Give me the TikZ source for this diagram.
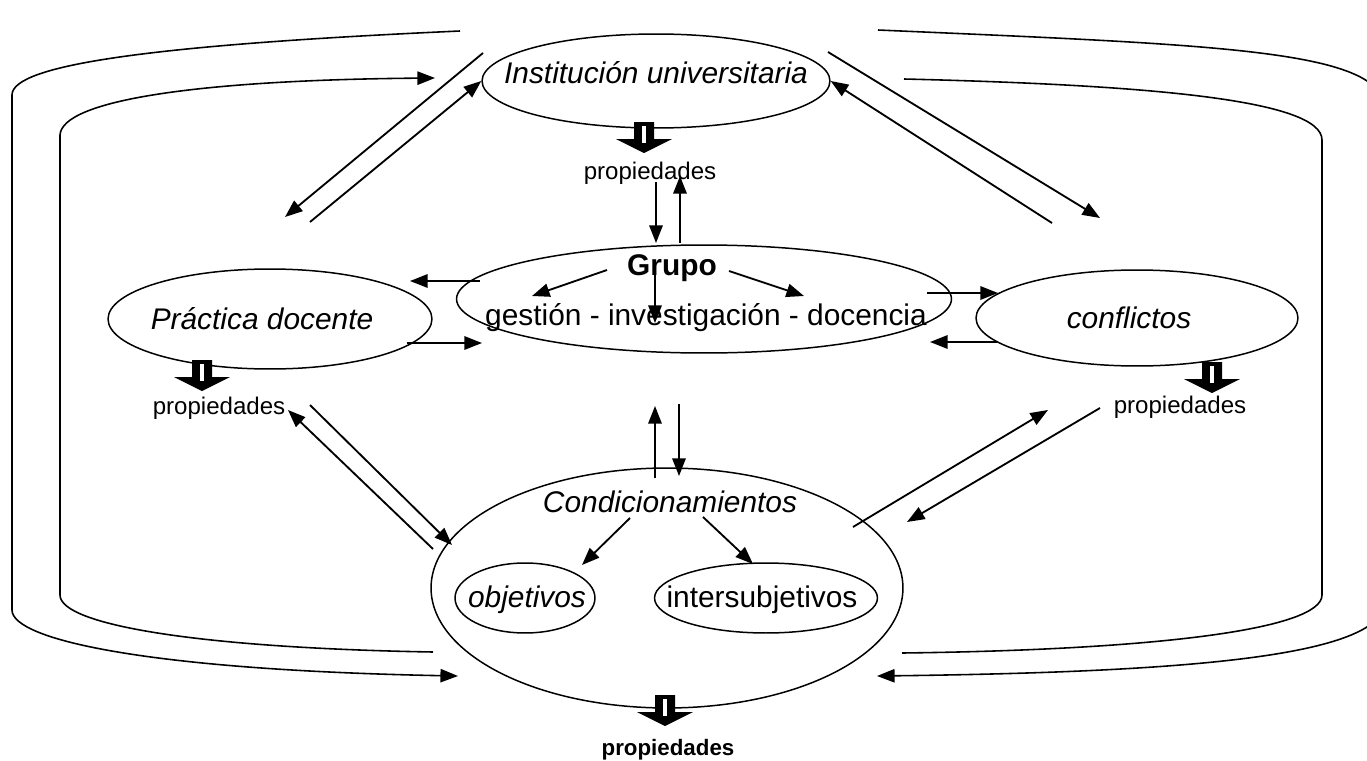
\documentclass[tikz,border=0pt]{standalone}
\usepackage{fontspec}
\setmainfont{Liberation Sans}
\usetikzlibrary{shapes.geometric,arrows.meta}
\begin{document}
\begin{tikzpicture}[x=0.02cm,y=-0.02cm,
  oval/.style={draw, ellipse, line width=0.85pt, inner sep=0pt},
  lbl/.style={font=\fontsize{17}{20}\selectfont, inner sep=0pt},
  ilbl/.style={font=\fontsize{17}{20}\selectfont\itshape, inner sep=0pt},
  blbl/.style={font=\fontsize{17}{20}\selectfont\bfseries, inner sep=0pt},
  prop/.style={font=\fontsize{13.7}{16}\selectfont, inner sep=0pt},
  tip/.style={-{Triangle[length=10pt,width=7.6pt]}},
  link/.style={line width=1.05pt, tip},
  loopline/.style={line width=0.9pt},
  blockarrow/.pic={
    \fill (-10,0) -- (10,0) -- (10,17) -- (28,17) -- (0,31) -- (-28,17) -- (-10,17) -- cycle;
    \fill[white] (-2,4) rectangle (2,21);
  }
]
\useasboundingbox (0,0) rectangle (1367,761);
\clip (0,0) rectangle (1367,761);

% ---- ellipses ----
\node[oval, minimum width=6.96cm, minimum height=1.88cm] (inst) at (656,81) {};
\node[oval, minimum width=9.9cm,  minimum height=2.16cm] (grupo) at (704,299) {};
\node[oval, minimum width=6.48cm, minimum height=2.0cm]  (prac) at (270,319) {};
\node[oval, minimum width=6.44cm, minimum height=1.92cm] (conf) at (1137,318) {};
\node[oval, minimum width=9.44cm, minimum height=4.8cm]  (cond) at (667,588) {};
\node[oval, minimum width=2.8cm,  minimum height=1.4cm]  (obj) at (525,598) {};
\node[oval, minimum width=4.46cm, minimum height=1.4cm]  (inter) at (766,598) {};

% ---- texts ----
\node[ilbl] (instt) at (656,73) {Institución universitaria};
\node[blbl] (grupot) at (672,268) {Grupo};
\node[lbl]  (gidt) at (706,318) {gestión - investigación - docencia};
\node[ilbl] (pract) at (262,319) {Práctica docente};
\node[ilbl] (conft) at (1129,318) {conflictos};
\node[ilbl] (condt) at (670,502) {Condicionamientos};
\node[ilbl] (objt) at (527,600) {objetivos};
\node[lbl]  (intert) at (762,600) {intersubjetivos};

% ---- property markers ----
\pic at (644,122) {blockarrow};
\pic at (202,360) {blockarrow};
\pic at (1212,362) {blockarrow};
\pic at (665,695) {blockarrow};
\node[prop] (prop1) at (650,173) {propiedades};
\node[prop] (prop2) at (219,408) {propiedades};
\node[prop] (prop3) at (1180,407) {propiedades};
\node[font=\fontsize{12.7}{15}\selectfont\bfseries, inner sep=0pt] (prop4) at (668,750) {propiedades};

% ---- connector end points ----
\coordinate (a1s) at (483,53);   \coordinate (a1e) at (285,217);
\coordinate (a2s) at (310,222);
\coordinate (a3s) at (828,52);   \coordinate (a3e) at (1100,218);
\coordinate (a4s) at (1052,223);
\coordinate (a5s) at (656,182);  \coordinate (a5e) at (656,243);
\coordinate (a6s) at (680,243);  \coordinate (a6e) at (680,176);
\coordinate (a7s) at (480,281);  \coordinate (a7e) at (410,281);
\coordinate (a8s) at (407,343);  \coordinate (a8e) at (482,343);
\coordinate (a9s) at (927,293);  \coordinate (a9e) at (998,293);
\coordinate (a10s) at (997,342); \coordinate (a10e) at (930,342);
\coordinate (a11s) at (607,270); \coordinate (a11e) at (532,296);
\coordinate (a12s) at (729,271); \coordinate (a12e) at (804,296);
\coordinate (a13s) at (655,272); \coordinate (a13e) at (655,323);
\coordinate (a14s) at (655,478); \coordinate (a14e) at (655,406);
\coordinate (a15s) at (679,404); \coordinate (a15e) at (679,476);
\coordinate (a16s) at (630,518); \coordinate (a16e) at (582,565);
\coordinate (a17s) at (703,517); \coordinate (a17e) at (753,564);
\coordinate (a18s) at (433,549); \coordinate (a18e) at (288,410);
\coordinate (a19s) at (310,405); \coordinate (a19e) at (452,545);
\coordinate (a20s) at (853,527); \coordinate (a20e) at (1048,410);
\coordinate (a21s) at (1100,408); \coordinate (a21e) at (907,522);

% ---- connectors ----
\draw[link] (a1s) -- (a1e);
\draw[link] (a2s) -- (inst.west);
\draw[link] (a3s) -- (a3e);
\draw[link] (a4s) -- (inst.east);
\draw[link] (a5s) -- (a5e);
\draw[link] (a6s) -- (a6e);
\draw[link] (a7s) -- (a7e);
\draw[link] (a8s) -- (a8e);
\draw[link] (a9s) -- (a9e);
\draw[link] (a10s) -- (a10e);
\draw[link] (a11s) -- (a11e);
\draw[link] (a12s) -- (a12e);
\draw[link] (a13s) -- (a13e);
\draw[link] (a14s) -- (a14e);
\draw[link] (a15s) -- (a15e);
\draw[link] (a16s) -- (a16e);
\draw[link] (a17s) -- (a17e);
\draw[link] (a18s) -- (a18e);
\draw[link] (a19s) -- (a19e);
\draw[link] (a20s) -- (a20e);
\draw[link] (a21s) -- (a21e);

% ---- surrounding loops ----
\coordinate (oltop) at (460,31);  \coordinate (olbot) at (458,676);
\coordinate (iltop) at (435,78);  \coordinate (ilbot) at (433,652);
\coordinate (ortop) at (878,30);  \coordinate (orbot) at (877,676);
\coordinate (irtop) at (904,79);  \coordinate (irbot) at (902,653);

\draw[loopline, tip] (oltop) .. controls (150,45) and (12,65) .. (12,95)
  -- (12,610) .. controls (12,640) and (150,670) .. (olbot);
\draw[loopline, tip] (ilbot) .. controls (200,648) and (60,625) .. (60,595)
  -- (60,135) .. controls (62,100) and (200,80) .. (iltop);
% the outer right loop runs just past the right edge of the page
\draw[loopline, tip] (ortop) .. controls (1220,45) and (1375,50) .. (1385,105)
  -- (1385,605) .. controls (1375,655) and (1200,672) .. (orbot);
\draw[loopline] (irtop) .. controls (1150,85) and (1322,100) .. (1322,140)
  -- (1322,595) .. controls (1322,630) and (1150,650) .. (irbot);
\end{tikzpicture}
\end{document}
